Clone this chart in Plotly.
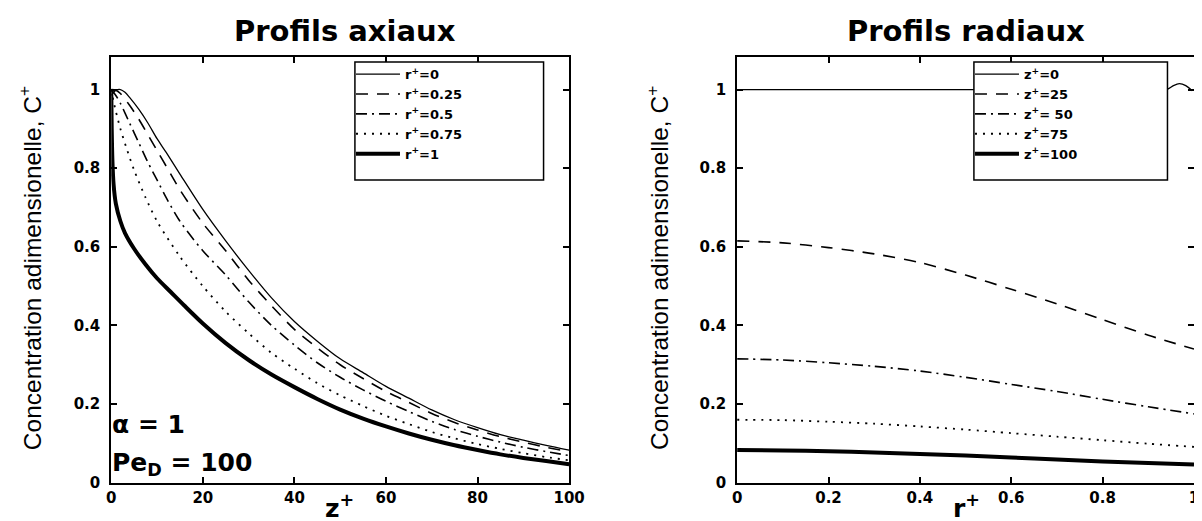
import plotly.graph_objects as go

# ---------------- data: axial profiles (left) ----------------
z_r0 = [0, 1, 2, 3, 4, 6, 8, 10, 12, 15, 20, 25, 30, 35, 40, 45, 50, 55, 60, 65, 70, 75, 80, 85, 90, 95, 100]
c_r0 = [0.985, 0.998, 1.0, 0.993, 0.98, 0.95, 0.915, 0.875, 0.84, 0.785, 0.695, 0.615, 0.54, 0.47, 0.41, 0.36,
        0.315, 0.28, 0.245, 0.215, 0.185, 0.16, 0.14, 0.122, 0.108, 0.095, 0.083]

z_r025 = [0, 1, 2, 4, 6, 8, 10, 12, 15, 20, 25, 30, 35, 40, 45, 50, 55, 60, 65, 70, 75, 80, 85, 90, 95, 100]
c_r025 = [1.0, 0.998, 0.99, 0.96, 0.925, 0.885, 0.845, 0.805, 0.745, 0.66, 0.59, 0.515, 0.45, 0.39, 0.343,
          0.30, 0.265, 0.232, 0.204, 0.176, 0.153, 0.134, 0.117, 0.103, 0.09, 0.079]

z_r05 = [0, 1, 2, 4, 6, 8, 10, 12, 15, 20, 25, 30, 35, 40, 45, 50, 55, 60, 65, 70, 75, 80, 85, 90, 95, 100]
c_r05 = [1.0, 0.985, 0.965, 0.915, 0.865, 0.815, 0.77, 0.725, 0.665, 0.59, 0.528, 0.46, 0.40, 0.35, 0.305,
         0.268, 0.236, 0.207, 0.181, 0.156, 0.135, 0.118, 0.103, 0.09, 0.079, 0.069]

z_r075 = [0, 0.5, 1, 2, 3.5, 5, 7.5, 10, 15, 20, 25, 30, 35, 40, 45, 50, 55, 60, 65, 70, 75, 80, 85, 90, 95, 100]
c_r075 = [1.0, 0.97, 0.945, 0.90, 0.845, 0.795, 0.725, 0.665, 0.575, 0.50, 0.435, 0.38, 0.33, 0.29, 0.253,
          0.222, 0.195, 0.17, 0.149, 0.129, 0.1125, 0.098, 0.086, 0.075, 0.065, 0.057]

z_r1 = [0, 0.1, 0.25, 0.5, 1, 2, 3, 5, 7.5, 10, 13, 16, 20, 25, 30, 35, 40, 45, 50, 55, 60, 65, 70, 75, 80, 85, 90, 95, 100]
c_r1 = [1.0, 0.9, 0.82, 0.76, 0.71, 0.665, 0.635, 0.595, 0.555, 0.52, 0.485, 0.45, 0.405, 0.355, 0.312, 0.275,
        0.243, 0.213, 0.186, 0.163, 0.143, 0.125, 0.109, 0.095, 0.083, 0.072, 0.063, 0.055, 0.047]

axial_names = ["r<sup>+</sup>=0", "r<sup>+</sup>=0.25", "r<sup>+</sup>=0.5", "r<sup>+</sup>=0.75", "r<sup>+</sup>=1"]

# ---------------- data: radial profiles (right) ----------------
r_z0 = [0, 0.2, 0.4, 0.6, 0.8, 0.94, 0.955, 0.968, 0.982, 0.996]
c_z0 = [1.0, 1.0, 1.0, 1.0, 1.0, 1.0, 1.01, 1.015, 1.01, 0.997]

r_grid = [0, 0.1, 0.2, 0.3, 0.4, 0.5, 0.6, 0.7, 0.8, 0.9, 1.0]
c_z25 = [0.615, 0.61, 0.598, 0.582, 0.56, 0.528, 0.492, 0.455, 0.415, 0.375, 0.34]
c_z50 = [0.315, 0.312, 0.305, 0.296, 0.284, 0.268, 0.25, 0.232, 0.212, 0.193, 0.175]
c_z75 = [0.16, 0.159, 0.155, 0.15, 0.143, 0.135, 0.126, 0.117, 0.108, 0.099, 0.091]
c_z100 = [0.083, 0.082, 0.08, 0.077, 0.073, 0.069, 0.064, 0.059, 0.054, 0.05, 0.046]

radial_names = ["z<sup>+</sup>=0", "z<sup>+</sup>=25", "z<sup>+</sup>= 50", "z<sup>+</sup>=75", "z<sup>+</sup>=100"]

# ticks
x_ticks_left = [0, 20, 40, 60, 80, 100]
x_ticks_right = [0, 0.2, 0.4, 0.6, 0.8, 1]
x_ticktext_right = ["0", "0.2", "0.4", "0.6", "0.8", "1"]
y_ticks = [0, 0.2, 0.4, 0.6, 0.8, 1]
y_ticktext = ["0", "0.2", "0.4", "0.6", "0.8", "1"]

# ---------------- figure ----------------
W, H = 1202, 521
def px_x(p): return p / W
def px_y(p): return (H - p) / H

styles = [
    dict(width=1.3, dash="solid"),
    dict(width=1.6, dash="12px,9px"),
    dict(width=1.6, dash="11px,5px,2px,5px"),
    dict(width=1.8, dash="2px,6px"),
    dict(width=4.0, dash="solid"),
]

fig = go.Figure()
axial = [(z_r0, c_r0), (z_r025, c_r025), (z_r05, c_r05), (z_r075, c_r075), (z_r1, c_r1)]
for (xs, ys), name, st in zip(axial, axial_names, styles):
    fig.add_trace(go.Scatter(x=xs, y=ys, mode="lines", name=name, xaxis="x", yaxis="y",
                             line=dict(color="black", width=st["width"], dash=st["dash"], shape="spline", smoothing=0.8),
                             legend="legend"))

radial = [(r_z0, c_z0), (r_grid, c_z25), (r_grid, c_z50), (r_grid, c_z75), (r_grid, c_z100)]
for (xs, ys), name, st in zip(radial, radial_names, styles):
    fig.add_trace(go.Scatter(x=xs, y=ys, mode="lines", name=name, xaxis="x2", yaxis="y2",
                             line=dict(color="black", width=st["width"], dash=st["dash"], shape="spline", smoothing=0.8),
                             legend="legend2"))

tickfont = dict(family="DejaVu Sans", size=15, color="black", weight="bold")
common = dict(showline=True, linecolor="black", linewidth=2, mirror="ticks", ticks="inside",
              ticklen=6, tickwidth=1.5, tickcolor="black", showgrid=False, zeroline=False,
              tickfont=tickfont, fixedrange=True)

ydom = [px_y(483), px_y(50)]
legfont = dict(family="DejaVu Sans", size=13, color="black", weight="bold")
legcommon = dict(xanchor="left", yanchor="top", bgcolor="rgba(0,0,0,0)", borderwidth=0,
                 font=legfont, itemwidth=44, tracegroupgap=0)
fig.update_layout(
    width=W, height=H,
    margin=dict(l=0, r=0, t=0, b=0),
    paper_bgcolor="white", plot_bgcolor="white",
    xaxis=dict(domain=[px_x(100), px_x(566)], range=[0, 100], tickvals=x_ticks_left, anchor="y", **common),
    yaxis=dict(domain=ydom, range=[0, 1.0825], tickvals=y_ticks, ticktext=y_ticktext, anchor="x",
               ticklabelstandoff=6, **common),
    xaxis2=dict(domain=[px_x(737), 1.0], range=[0, 1.0], tickvals=x_ticks_right, ticktext=x_ticktext_right,
                anchor="y2", **common),
    yaxis2=dict(domain=ydom, range=[0, 1.0825], tickvals=y_ticks, ticktext=y_ticktext, anchor="x2",
                ticklabelstandoff=6, **common),
    legend=dict(x=px_x(344), y=px_y(52), **legcommon),
    legend2=dict(x=px_x(974), y=px_y(52), **legcommon),
    showlegend=True,
)

# legend frames (white boxes drawn above the curves, under the legend entries)
frames = [(348, 540), (978, 1175)]
fig.update_layout(shapes=[
    dict(type="rect", xref="paper", yref="paper", x0=px_x(a), x1=px_x(b), y0=px_y(175), y1=px_y(55),
         fillcolor="white", line=dict(color="black", width=1.5), layer="above")
    for a, b in frames
])

ann_font = dict(family="DejaVu Sans", color="black", weight="bold")
ylab_font = dict(family="Liberation Sans, Arial", size=24.5, color="black")
annotations = [
    dict(text="Profils axiaux", x=px_x(338), y=px_y(23), font=dict(size=29, **ann_font)),
    dict(text="Profils radiaux", x=px_x(970), y=px_y(23), font=dict(size=29, **ann_font)),
    dict(text="Concentration adimensionelle, C<sup>+</sup>", x=px_x(17), y=px_y(265), textangle=-90, font=ylab_font),
    dict(text="Concentration adimensionelle, C<sup>+</sup>", x=px_x(656), y=px_y(265), textangle=-90, font=ylab_font),
    dict(text="z<sup>+</sup>", x=px_x(332), y=px_y(507), font=dict(size=25, **ann_font)),
    dict(text="r<sup>+</sup>", x=px_x(970), y=px_y(507), font=dict(size=25, **ann_font)),
    dict(text="α = 1", x=px_x(99), y=px_y(424), xanchor="left", font=dict(size=25, **ann_font)),
    dict(text="Pe<sub>D</sub> = 100", x=px_x(99), y=px_y(464), xanchor="left", font=dict(size=25, **ann_font)),
]
for a in annotations:
    a.setdefault("xanchor", "center")
    a.update(xref="paper", yref="paper", yanchor="middle", showarrow=False)
fig.update_layout(annotations=annotations)

fig.write_html("out.html")
